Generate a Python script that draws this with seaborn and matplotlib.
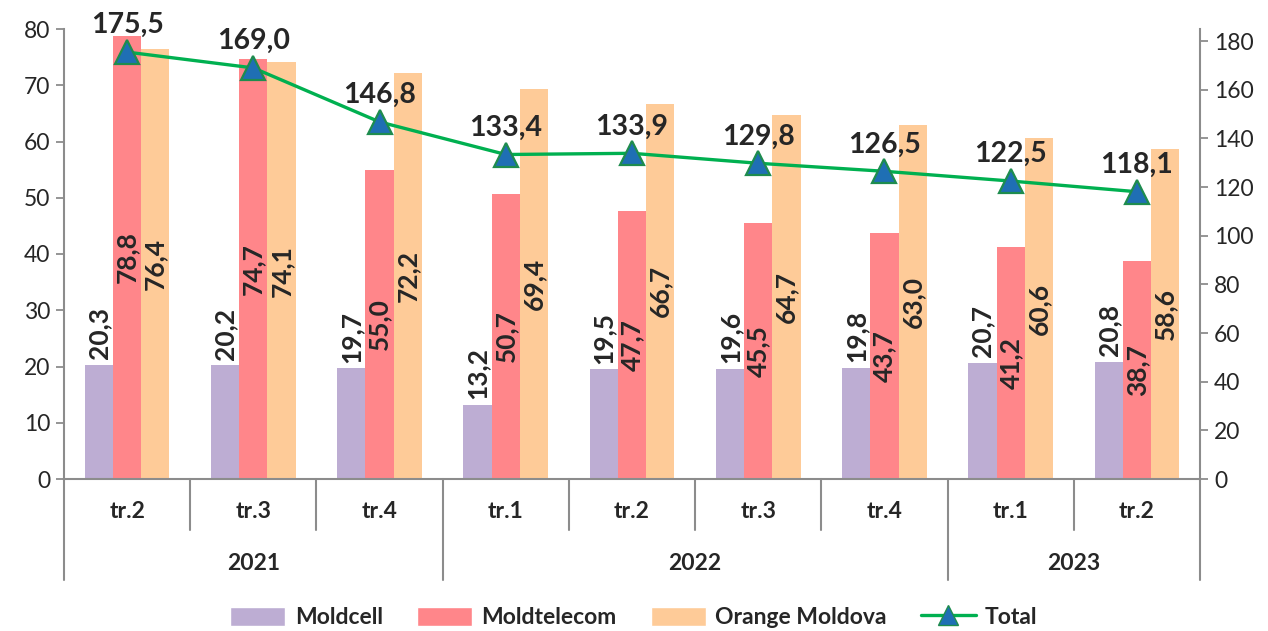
import numpy as np
import pandas as pd
import matplotlib
matplotlib.use("Agg")
import matplotlib.pyplot as plt
import matplotlib.transforms as mtransforms
from matplotlib.patches import Patch
from matplotlib.lines import Line2D
import seaborn as sns

# --- data ---
quarters = ["tr.2", "tr.3", "tr.4", "tr.1", "tr.2", "tr.3", "tr.4", "tr.1", "tr.2"]
years = ["2021", "2021", "2021", "2022", "2022", "2022", "2022", "2023", "2023"]
moldcell = [20.3, 20.2, 19.7, 13.2, 19.5, 19.6, 19.8, 20.7, 20.8]
moldtelecom = [78.8, 74.7, 55.0, 50.7, 47.7, 45.5, 43.7, 41.2, 38.7]
orange = [76.4, 74.1, 72.2, 69.4, 66.7, 64.7, 63.0, 60.6, 58.6]
total = [175.5, 169.0, 146.8, 133.4, 133.9, 129.8, 126.5, 122.5, 118.1]

operators = ["Moldcell", "Moldtelecom", "Orange Moldova"]
colors = {"Moldcell": "#BDADD3", "Moldtelecom": "#FF868A", "Orange Moldova": "#FECB98"}
line_color = "#00B050"
axis_gray = "#8C8C8C"

keys = [f"{y} {q}" for y, q in zip(years, quarters)]
df = pd.DataFrame({
    "period": keys * 3,
    "operator": np.repeat(operators, len(keys)),
    "value": moldcell + moldtelecom + orange,
})

sns.set_style("white")
plt.rcParams["font.family"] = ["Lato", "DejaVu Sans"]

fig = plt.figure(figsize=(12.68, 6.31), dpi=100)
ax = fig.add_axes([64 / 1268, 152 / 631, 1136 / 1268, 450 / 631])

sns.barplot(data=df, x="period", y="value", hue="operator", order=keys,
            hue_order=operators, palette=colors, width=0.67, saturation=1,
            linewidth=0, legend=False, ax=ax)

fmt = lambda v: f"{v:.1f}".replace(".", ",")
for cont, op in zip(ax.containers, operators):
    labs = [fmt(v) for v in cont.datavalues]
    if op == "Moldcell":
        ax.bar_label(cont, labels=labs, label_type="edge", rotation=90,
                     padding=4, fontsize=19, fontweight="bold")
    else:
        ax.bar_label(cont, labels=labs, label_type="center", rotation=90,
                     fontsize=19, fontweight="bold")

ax.set_xlim(-0.5, len(keys) - 0.5)
ax.set_ylim(0, 80)
ax.set_yticks(np.arange(0, 81, 10))
ax.set_xlabel("")
ax.set_ylabel("")
ax.set_xticks([])
ax.tick_params(axis="y", labelsize=16.5, length=6, width=1.3, color=axis_gray,
               direction="out", left=True, pad=4)
for s in ["top", "right"]:
    ax.spines[s].set_visible(False)
for s in ["left", "bottom"]:
    ax.spines[s].set_color(axis_gray)
    ax.spines[s].set_linewidth(1.5)

# secondary axis: total
ax2 = ax.twinx()
xs = np.arange(len(keys))
sns.lineplot(x=xs, y=total, ax=ax2, color=line_color, linewidth=2.4,
             marker="^", markersize=17, markerfacecolor="#1F6FB4",
             markeredgecolor="#1E8C4E", markeredgewidth=1.6)
for x, v in zip(xs, total):
    ax2.annotate(fmt(v), (x, v), xytext=(0, 10), textcoords="offset points",
                 ha="center", va="bottom", fontsize=20.5, fontweight="bold")
ax2.set_ylim(0, 185)
ax2.set_yticks(np.arange(0, 181, 20))
ax2.tick_params(axis="y", labelsize=16.5, length=6, width=1.3, color=axis_gray,
                direction="out", right=True, pad=4)
for s in ["top", "left", "bottom"]:
    ax2.spines[s].set_visible(False)
ax2.spines["right"].set_color(axis_gray)
ax2.spines["right"].set_linewidth(1.5)

# two-level category axis
trans = mtransforms.blended_transform_factory(ax.transData, ax.transAxes)
q_depth = -51 / 450
y_depth = -101 / 450
for i, q in enumerate(quarters):
    ax.text(i, -33 / 450, q, transform=trans, ha="center", va="center",
            fontsize=16.5, fontweight="bold")
for b in range(len(keys) + 1):
    edge = b == 0 or b == len(keys) or years[b] != years[b - 1]
    ax.plot([b - 0.5, b - 0.5], [0, y_depth if edge else q_depth],
            transform=trans, color=axis_gray, linewidth=1.5, clip_on=False)
for yr in dict.fromkeys(years):
    idx = [i for i, y in enumerate(years) if y == yr]
    ax.text(np.mean(idx), -84 / 450, yr, transform=trans, ha="center",
            va="center", fontsize=16.5, fontweight="bold")

handles = [Patch(facecolor=colors[o], label=o) for o in operators]
handles.append(Line2D([], [], color=line_color, linewidth=2.4, marker="^",
                      markersize=14, markerfacecolor="#1F6FB4",
                      markeredgecolor="#1E8C4E", label="Total"))
fig.legend(handles=handles, loc="lower center", bbox_to_anchor=(0.5, -0.028),
           ncol=4, frameon=False, prop={"size": 16.5, "weight": "bold"},
           handlelength=2.4, handleheight=0.9, columnspacing=1.5,
           handletextpad=0.4)

fig.savefig("out.png", dpi=100)
